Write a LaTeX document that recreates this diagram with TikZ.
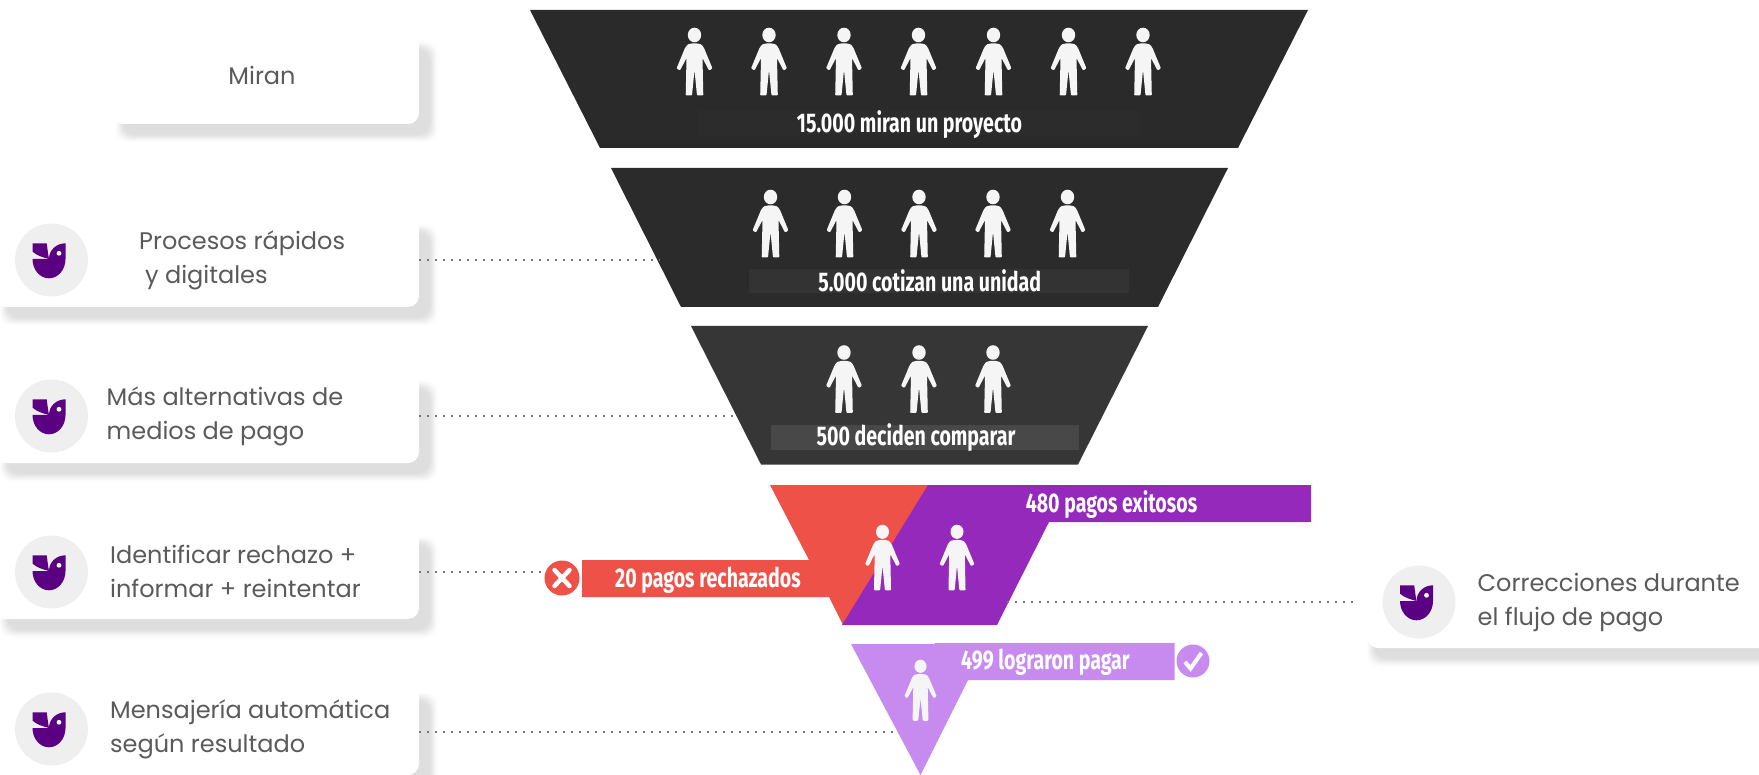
\documentclass[tikz,border=0pt]{standalone}
\usepackage{fontspec}
\usetikzlibrary{calc}
\newfontfamily\popfont{Poppins}
\newfontfamily\oswfont[FakeStretch=0.725]{Fira Sans}
\definecolor{dkA}{HTML}{2A2A2A}
\definecolor{dkB}{HTML}{2B2B2B}
\definecolor{dkC}{HTML}{363636}
\definecolor{barA}{HTML}{2C2C2C}
\definecolor{barB}{HTML}{333333}
\definecolor{barC}{HTML}{484848}
\definecolor{redc}{HTML}{EE5148}
\definecolor{purc}{HTML}{9429BB}
\definecolor{lilc}{HTML}{C78BEF}
\definecolor{txtc}{HTML}{5A5A5A}
\definecolor{circc}{HTML}{EFEFEF}
\definecolor{logoc}{HTML}{5B0082}
\definecolor{persc}{HTML}{F5F5F5}
\definecolor{dotc}{HTML}{777777}
\tikzset{
  cardbox/.style={draw=none,fill=white,rounded corners=11pt,inner sep=0pt},
  cardtext/.style={font=\popfont\fontsize{24}{34}\selectfont,text=txtc,align=left,inner sep=0pt,anchor=west},
  bartext/.style={font=\oswfont\bfseries\fontsize{27}{30}\selectfont,text=white,inner sep=0pt},
  iconcirc/.style={circle,fill=circc,draw=none,minimum size=73pt,inner sep=0pt},
  dots/.style={dotc,line width=1.6pt,dash pattern=on 1.6pt off 6.4pt},
  person/.pic={
    \fill[persc] (0,7) ellipse [x radius=6.7,y radius=7.3];
    \fill[persc,rounded corners=1pt] (-7,16.5) .. controls (-2,15) and (2,15) .. (7,16.5)
      -- (9.5,20) -- (18,40.5) -- (14.5,42.5) -- (8,30) -- (8.8,67.5) -- (2.5,67.5) -- (0,42)
      -- (-2.5,67.5) -- (-8.8,67.5) -- (-8,30) -- (-14.5,42.5) -- (-18,40.5) -- (-9.5,20) -- cycle;
  },
  logo/.pic={
    \fill[logoc] (-16.5,0) -- (0,0) .. controls (0,-9) and (7.5,-15.7) .. (16.5,-15.7) -- (16.5,0)
      .. controls (16.5,10.7) and (9.1,19.3) .. (0,19.3) .. controls (-9.1,19.3) and (-16.5,10.7) .. (-16.5,0) -- cycle;
    \fill[logoc] (-16.5,-15.7) -- (-2.3,-15.7) .. controls (-1.5,-10) and (-1,-5) .. (0,0)
      .. controls (-6,-1.5) and (-12,-3.5) .. (-16.5,-7.3) -- cycle;
    \fill[white] (10,-5.7) circle [radius=2.4];
  },
}
\newcommand{\softshadow}[4]{%
  \foreach \d/\c in {6/4,5/10,4/20,3/32,2/46,1/60,0/73,-1/85,-2/94,-3/100}{
    \fill[black!13!white!\c!white,rounded corners=12pt]
      ({#1+13-\d},{#2+13-\d}) rectangle ({#3+13+\d},{#4+13+\d});
  }%
}
\begin{document}
\begin{tikzpicture}[x=1pt,y=-1pt]
\useasboundingbox (0,0) rectangle (1759,775);
\fill[white] (0,0) rectangle (1759,775);

% shadows and cards
\softshadow{108}{34}{419}{124}
\softshadow{-8}{217}{419}{307}
\softshadow{-8}{373}{419}{463}
\softshadow{-8}{529}{419}{619}
\softshadow{-8}{685}{419}{775}
\softshadow{1359}{558}{1780}{648}
\node[cardbox,minimum width=307pt,minimum height=90pt] (c1) at (265.5,79) {};
\node[cardbox,minimum width=427pt,minimum height=90pt] (c2) at (205.5,262) {};
\node[cardbox,minimum width=427pt,minimum height=90pt] (c3) at (205.5,418) {};
\node[cardbox,minimum width=427pt,minimum height=90pt] (c4) at (205.5,574) {};
\node[cardbox,minimum width=427pt,minimum height=90pt] (c5) at (205.5,730) {};
\node[cardbox,minimum width=413pt,minimum height=90pt] (c6) at (1573.5,603) {};

% icon circles
\node[iconcirc] (i2) at (51.5,260) {};
\node[iconcirc] (i3) at (51.5,416) {};
\node[iconcirc] (i4) at (51.5,572) {};
\node[iconcirc] (i5) at (51.5,729) {};
\node[iconcirc] (i6) at (1419,602) {};
\foreach \n in {i2,i3,i4,i5,i6}{
  \pic at ($(\n)+(-2.5,-1)$) {logo};
}

% card texts
\node[cardtext,anchor=center] (t1) at (262,75.5) {Miran};
\node[cardtext] (t2) at (139,260.5) {Procesos rápidos\\\hspace*{6pt}y digitales};
\node[cardtext] (t3) at (106.5,416.5) {Más alternativas de\\medios de pago};
\node[cardtext] (t4) at (110,571) {Identificar rechazo +\\informar + reintentar};
\node[cardtext] (t5) at (110,729.5) {Mensajería automática\\según resultado};
\node[cardtext] (t6) at (1477.5,602.5) {Correcciones durante\\el flujo de pago};

% funnel anchor points for the dotted connectors
\coordinate (e2) at (660,260);
\coordinate (e3) at (737,416);
\coordinate (e6) at (1353,602);
\coordinate (e5) at (898,732);
\coordinate (e7) at (1006,602);

% dark trapezoids
\fill[dkA] (530,10) -- (1308,10) -- (1238,148) -- (600,148) -- cycle;
\fill[dkB] (611,168) -- (1228,168) -- (1158,307) -- (681,307) -- cycle;
\fill[dkC] (691,326) -- (1148,326) -- (1078,464.5) -- (761,464.5) -- cycle;
\fill[barA] (698,110) rectangle (1140,135);
\fill[barB] (749,269) rectangle (1129,293);
\fill[barC] (771,425) rectangle (1079,450);

% payment funnel
\fill[redc] (770,485) -- (930,485) -- (843,625) -- (829,597) -- (582,597) -- (582,560) -- (809,560) -- cycle;
\fill[purc] (928,485) -- (1311,485) -- (1311,522) -- (1049,522) -- (997,625) -- (842,625) -- cycle;
\fill[lilc] (851,644) -- (934.5,644) -- (934.5,643) -- (1174.5,643) -- (1174.5,680) -- (968,680) -- (920.5,775) -- cycle;

% status icons
\node[circle,fill=redc,minimum size=35pt,inner sep=0pt] (xc) at (562,578) {};
\draw[white,line width=4.5pt,line cap=round] ($(xc)+(-7.5,-8)$) -- ($(xc)+(7.5,8)$);
\draw[white,line width=4.5pt,line cap=round] ($(xc)+(-7.5,8)$) -- ($(xc)+(7.5,-8)$);
\node[circle,fill=lilc,minimum size=33pt,inner sep=0pt] (vc) at (1193,661) {};
\draw[white,line width=4pt] ($(vc)+(-8,1)$) -- ($(vc)+(-2.5,7.5)$) -- ($(vc)+(8.5,-8)$);

% dotted connectors
\draw[dots] (c2.east |- i2) -- (e2);
\draw[dots] (c3.east |- i3) -- (e3);
\draw[dots] (c4.east |- i4) -- (xc.west |- i4);
\draw[dots] (c5.east |- e5) -- (e5);
\draw[dots] (e6) -- (e7);

% people
\foreach \x in {694.5,769,844,918.5,993.5,1068.5,1143}{\pic at (\x,28) {person};}
\foreach \x in {770.5,844.5,919,993,1067.5}{\pic at (\x,190) {person};}
\foreach \x in {844,919,993}{\pic at (\x,345.5) {person};}
\foreach \x in {882.5,957}{\pic[scale=0.97] at (\x,525) {person};}
\pic[scale=0.9] at (920.5,660) {person};

% funnel labels
\node[bartext] (b1) at (909.5,124.5) {15.000 miran un proyecto};
\node[bartext] (b2) at (929.7,280.5) {5.000 cotizan una unidad};
\node[bartext] (b3) at (916,438) {500 deciden comparar};
\node[bartext] (b4) at (1111.5,505) {480 pagos exitosos};
\node[bartext] (b5) at (708,580) {20 pagos rechazados};
\node[bartext] (b6) at (1045.5,662.5) {499 lograron pagar};
\end{tikzpicture}
\end{document}
